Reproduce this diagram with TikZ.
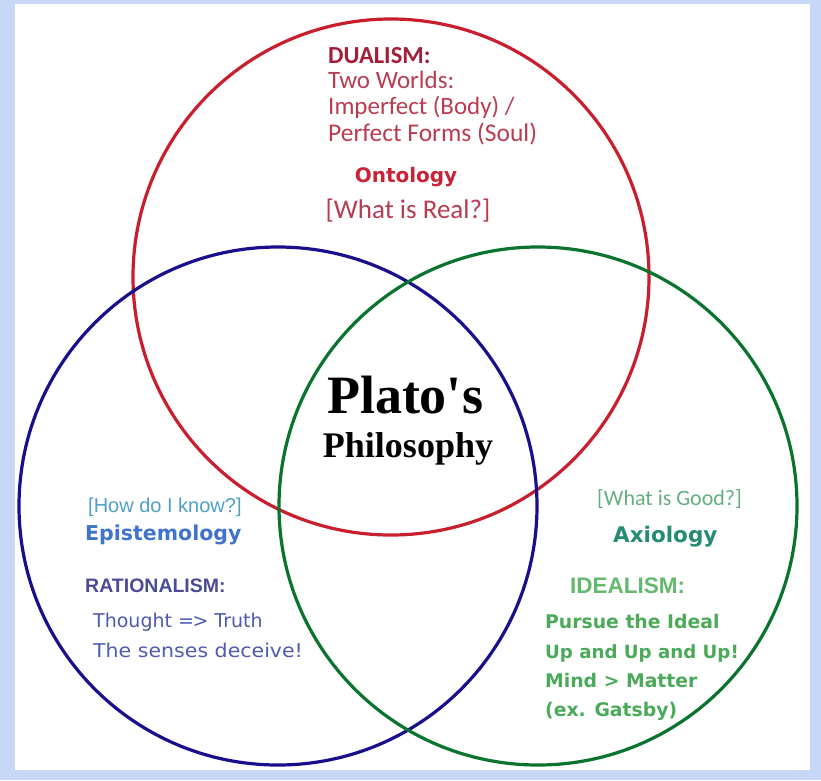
\documentclass[tikz,border=0pt]{standalone}
\usepackage{fontspec}
\setmainfont{Liberation Serif}
\newfontfamily\calfont{Carlito}
\newfontfamily\arialfont{Liberation Sans}
\newfontfamily\verdfont{DejaVu Sans}
\usepackage{graphicx}
\usepackage{tikz}

\definecolor{framebg}{RGB}{198,216,245}
\definecolor{redring}{RGB}{200,30,45}
\definecolor{bluering}{RGB}{25,15,140}
\definecolor{greenring}{RGB}{10,115,45}
\definecolor{dualred}{RGB}{165,30,55}
\definecolor{bodyred}{RGB}{185,60,80}
\definecolor{ontored}{RGB}{200,35,55}
\definecolor{askblue}{RGB}{80,160,200}
\definecolor{epiblue}{RGB}{65,115,205}
\definecolor{ratblue}{RGB}{75,75,150}
\definecolor{bodyblue}{RGB}{80,90,175}
\definecolor{askgreen}{RGB}{100,175,130}
\definecolor{axigreen}{RGB}{35,140,115}
\definecolor{idegreen}{RGB}{100,185,110}
\definecolor{bodygreen}{RGB}{75,170,90}

\begin{document}
\begin{tikzpicture}
        [
            x=1pt, y=-1pt,
            ring/.style={circle, draw, line width=3.2pt, inner sep=0pt, outer sep=0pt, minimum size=#1},
            txt/.style={inner sep=0pt, anchor=base west},
            ctxt/.style={inner sep=0pt, anchor=base}
        ]
        %frame
        \fill[framebg] (0,0) rectangle (821,780);
        \fill[white] (15,4) rectangle (810,770);
        \useasboundingbox (0,0) rectangle (821,780);
        %circles
        \node[ring=516pt, draw=redring] at (391,277)     (ontology_ring)     {};
        \node[ring=518pt, draw=bluering] at (278,506)    (epistemology_ring) {};
        \node[ring=518pt, draw=greenring] at (538,506)   (axiology_ring)     {};
        %ontology
        \node[txt, dualred, font=\calfont\bfseries\fontsize{24.5}{24.5}\selectfont] at (328,63) (dualism)   {DUALISM:};
        \node[txt, bodyred, font=\calfont\fontsize{25}{25}\selectfont] at (328,88)            (two_worlds)  {Two Worlds:};
        \node[txt, bodyred, font=\calfont\fontsize{25}{25}\selectfont] at (328,114)           (imperfect)   {Imperfect (Body) /};
        \node[txt, bodyred, font=\calfont\fontsize{25.5}{25.5}\selectfont] at (328,141)       (perfect)     {Perfect Forms (Soul)};
        \node[ctxt, ontored, font=\verdfont\bfseries\fontsize{20}{20}\selectfont] at (406,182) (ontology)   {Ontology};
        \node[ctxt, bodyred, font=\calfont\fontsize{27}{27}\selectfont] at (408,218)          (what_real)   {[What is Real?]};
        %center
        \node[ctxt, black, font=\bfseries\fontsize{54}{54}\selectfont] at (405,413)           (plato)       {Plato\XeTeXglyph\XeTeXglyphindex "quotesingle"\relax s};
        \node[ctxt, black, font=\bfseries\fontsize{36}{36}\selectfont] at (408,457)           (philosophy)  {Philosophy};
        %epistemology
        \node[txt, askblue, font=\arialfont\fontsize{20}{20}\selectfont] at (88,512)          (how_know)    {[How do I know?]};
        \node[txt, epiblue, font=\verdfont\bfseries\fontsize{20.5}{20.5}\selectfont] at (85,540) (epistemology) {Epistemology};
        \node[txt, ratblue, font=\arialfont\bfseries\fontsize{19.5}{19.5}\selectfont] at (85,592) (rationalism) {RATIONALISM:};
        \node[txt, bodyblue, font=\verdfont\fontsize{19}{19}\selectfont] at (93,627)          (thought)     {Thought =\kern-1.5pt> Truth};
        \node[txt, bodyblue, font=\verdfont\fontsize{19}{19}\selectfont] at (93,657)          (senses)      {\scalebox{1.08}[1]{The senses deceive!}};
        %axiology
        \node[txt, askgreen, font=\calfont\fontsize{22}{22}\selectfont] at (597,505)          (what_good)   {[What is Good?]};
        \node[txt, axigreen, font=\verdfont\bfseries\fontsize{21.5}{21.5}\selectfont] at (613,542) (axiology) {Axiology};
        \node[txt, idegreen, font=\arialfont\bfseries\fontsize{22.5}{22.5}\selectfont] at (570,593) (idealism) {IDEALISM:};
        \node[txt, bodygreen, font=\verdfont\bfseries\fontsize{18.8}{18.8}\selectfont] at (545,628) (pursue)  {Pursue the Ideal};
        \node[txt, bodygreen, font=\verdfont\bfseries\fontsize{18.2}{18.2}\selectfont] at (545,658) (up_and_up) {Up and Up and Up!};
        \node[txt, bodygreen, font=\verdfont\bfseries\fontsize{18.8}{18.8}\selectfont] at (545,687) (mind)    {Mind > Matter};
        \node[txt, bodygreen, font=\verdfont\bfseries\fontsize{18.8}{18.8}\selectfont] at (545,716) (gatsby)  {(ex. Gatsby)};
    \end{tikzpicture}
\end{document}
